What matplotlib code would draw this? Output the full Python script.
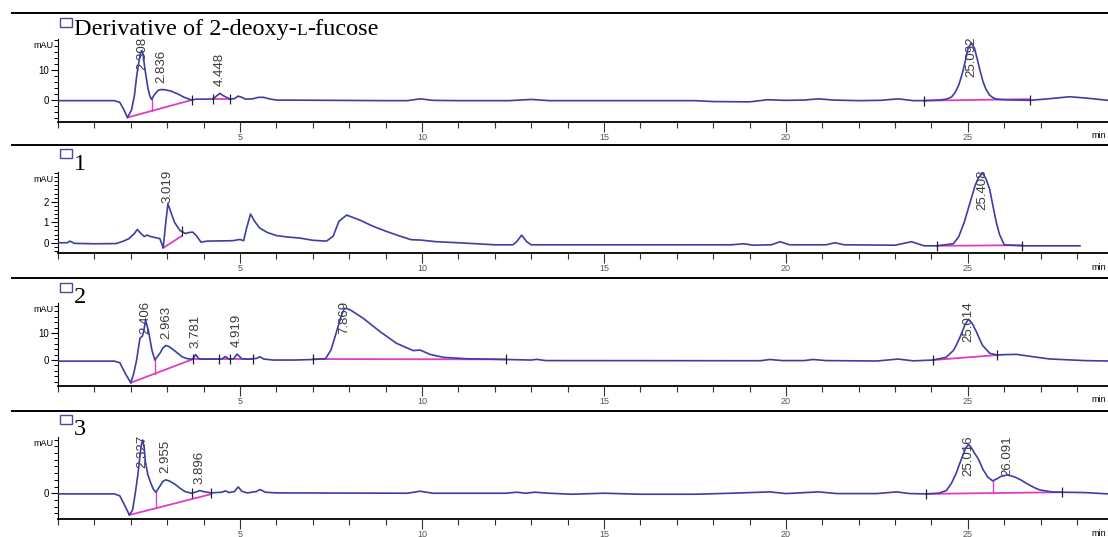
import numpy as np
import matplotlib
matplotlib.use("Agg")
import matplotlib.pyplot as plt
from matplotlib.lines import Line2D
from matplotlib.patches import Rectangle
from matplotlib.ticker import MultipleLocator, FixedLocator

W, H, DPI = 1108, 537, 100

# ---------------------------------------------------------------- data
sample_names = ["Derivative of 2-deoxy-", "1", "2", "3"]

# chromatogram shape points (time in min, signal in mAU); peak apexes are listed separately
deriv_shape = [(0.0, -0.2), (1.55, -0.2), (1.70, -0.8), (1.80, -3.0), (1.91, -5.8), (2.02, -3.3),
               (2.10, 1.5), (2.16, 7.8), (2.23, 13.3), (2.27, 15.8), (2.34, 15.0), (2.38, 11.0),
               (2.47, 4.0), (2.52, 1.5), (2.57, 0.2), (2.65, 1.8), (2.75, 3.2), (2.95, 3.4),
               (3.10, 3.0), (3.30, 2.0), (3.45, 1.0), (3.67, 0.0), (3.80, 0.3), (4.10, 0.3),
               (4.26, 0.4), (4.35, 1.3), (4.55, 1.4), (4.73, 0.3), (4.85, 0.5), (4.95, 1.3),
               (5.05, 0.9), (5.15, 0.3), (5.35, 0.4), (5.50, 0.9), (5.65, 0.9), (5.80, 0.4),
               (6.00, 0.0), (7.50, -0.1), (9.00, -0.2), (9.60, -0.2), (9.95, 0.4), (10.30, -0.1),
               (11.0, -0.2), (12.4, -0.2), (13.0, 0.2), (13.5, -0.2), (17.5, -0.2), (18.0, -0.5),
               (19.0, -0.6), (19.5, 0.1), (20.0, -0.1), (20.5, 0.0), (20.9, 0.4), (21.3, 0.0),
               (22.0, -0.2), (22.6, -0.1), (23.08, 0.4), (23.5, -0.2), (23.79, -0.2), (24.2, 0.0),
               (24.41, 0.3), (24.55, 1.0), (24.65, 2.5), (24.75, 5.0), (24.85, 9.0), (24.93, 13.0),
               (25.0, 17.0), (25.18, 17.3), (25.26, 13.5), (25.34, 9.5), (25.42, 6.0), (25.5, 3.5),
               (25.6, 1.6), (25.7, 0.7), (25.79, 0.3), (26.0, 0.1), (26.7, -0.1), (27.2, 0.4),
               (27.8, 1.1), (28.3, 0.6), (28.85, -0.1)]
deriv_peak_rt = [2.308, 2.836, 4.448, 25.092]
deriv_peak_h = [16.5, 3.5, 2.2, 19.0]
deriv_baselines = [((1.91, -5.8), (3.67, 0.0)), ((4.26, 0.3), (4.73, 0.3)), ((23.79, -0.2), (26.70, 0.3))]
deriv_drops = [2.57]
deriv_events = [3.67, 4.26, 4.73, 23.79, 26.70]

s1_shape = [(0.0, 0.0), (0.25, 0.0), (0.33, 0.08), (0.45, -0.03), (1.0, -0.05), (1.6, -0.04),
            (1.8, 0.08), (1.95, 0.2), (2.10, 0.45), (2.18, 0.65), (2.28, 0.45), (2.37, 0.3),
            (2.44, 0.37), (2.55, 0.3), (2.68, 0.25), (2.80, 0.2), (2.89, -0.25), (2.95, 0.8),
            (3.10, 1.5), (3.20, 1.0), (3.35, 0.6), (3.50, 0.45), (3.60, 0.5), (3.70, 0.52),
            (3.80, 0.35), (3.93, 0.03), (4.1, 0.08), (4.8, 0.1), (5.0, 0.16), (5.10, 0.1),
            (5.18, 0.7), (5.29, 1.4), (5.40, 1.05), (5.54, 0.72), (5.75, 0.5), (6.0, 0.35),
            (6.3, 0.28), (6.64, 0.23), (7.0, 0.12), (7.38, 0.08), (7.56, 0.32), (7.72, 1.05),
            (7.93, 1.35), (8.3, 1.1), (8.66, 0.8), (9.03, 0.55), (9.4, 0.32), (9.7, 0.15),
            (9.97, 0.13), (10.4, 0.05), (11.0, 0.0), (12.0, -0.1), (12.5, -0.1), (12.6, 0.05),
            (12.88, 0.05), (13.0, -0.1), (18.5, -0.1), (18.85, -0.05), (19.1, -0.12),
            (19.6, -0.1), (19.84, 0.05), (20.1, -0.1), (21.1, -0.1), (21.35, 0.0), (21.6, -0.1),
            (23.0, -0.12), (23.45, 0.05), (23.8, -0.15), (24.14, -0.15), (24.6, -0.05),
            (24.75, 0.3), (24.9, 1.0), (25.0, 1.6), (25.1, 2.2), (25.2, 2.8), (25.3, 3.2),
            (25.5, 3.1), (25.6, 2.6), (25.7, 1.7), (25.78, 1.0), (25.87, 0.4), (26.0, -0.1),
            (26.5, -0.15), (28.08, -0.15)]
s1_peak_rt = [3.019, 12.74, 25.408]
s1_peak_h = [1.9, 0.37, 3.4]
s1_peak_labelled = [True, False, True]
s1_baselines = [((2.89, -0.25), (3.40, 0.33)), ((24.14, -0.15), (26.50, -0.12))]
s1_drops = []
s1_events = [3.40, 24.14, 26.50]

s2_shape = [(0.0, -0.4), (1.55, -0.4), (1.70, -1.0), (1.85, -5.0), (2.00, -8.4), (2.08, -5.0),
            (2.16, 0.0), (2.25, 8.0), (2.32, 8.9), (2.36, 11.0), (2.49, 10.5), (2.58, 3.7),
            (2.66, 0.0), (2.81, 2.7), (2.88, 4.4), (3.05, 5.0), (3.18, 3.7), (3.41, 1.2),
            (3.55, 0.5), (3.70, 0.3), (3.87, 0.5), (4.0, 0.3), (4.5, 0.4), (4.6, 1.3), (4.7, 0.3),
            (4.83, 0.5), (5.05, 0.5), (5.2, 0.3), (5.45, 0.6), (5.55, 1.2), (5.65, 0.4),
            (5.9, 0.0), (6.5, 0.0), (7.0, 0.2), (7.35, 0.5), (7.50, 3.7), (7.62, 9.0),
            (7.72, 13.5), (7.80, 17.0), (7.95, 19.0), (8.05, 18.4), (8.39, 15.4), (8.85, 10.5),
            (9.3, 6.2), (9.76, 3.5), (9.95, 3.7), (10.22, 2.1), (10.59, 1.0), (11.2, 0.5),
            (12.33, 0.2), (13.0, 0.0), (13.15, 0.26), (13.4, -0.2), (19.3, -0.25), (19.56, 0.2),
            (19.9, -0.2), (20.5, -0.2), (20.75, 0.2), (21.1, -0.2), (22.5, -0.35), (23.08, 0.37),
            (23.5, -0.3), (24.04, 0.0), (24.4, 1.0), (24.6, 3.5), (24.7, 6.0), (24.8, 9.0),
            (24.92, 13.0), (25.12, 13.5), (25.25, 10.0), (25.33, 7.5), (25.4, 5.5), (25.6, 2.5),
            (25.81, 1.85), (26.0, 2.0), (26.34, 2.1), (26.8, 1.2), (27.25, 0.4), (28.2, -0.2),
            (28.85, -0.35)]
s2_peak_rt = [2.406, 2.963, 3.781, 4.919, 7.869, 25.014]
s2_peak_h = [14.8, 5.4, 2.0, 2.2, 19.1, 15.1]
s2_peak_labelled = [True, True, True, True, True, True]
s2_baselines = [((2.00, -8.4), (3.70, 0.3)), ((3.70, 0.3), (5.36, 0.3)),
                ((7.01, 0.37), (12.30, 0.25)), ((24.04, 0.0), (25.81, 1.85))]
s2_drops = [2.66]
s2_events = [3.70, 4.43, 4.73, 5.36, 7.01, 12.30, 24.04, 25.81]

s3_shape = [(0.0, -0.2), (1.55, -0.2), (1.70, -0.8), (1.85, -4.0), (1.96, -6.5), (2.05, -5.0),
            (2.13, 0.5), (2.20, 6.0), (2.26, 12.0), (2.30, 15.0), (2.37, 13.5), (2.40, 9.5),
            (2.47, 5.5), (2.55, 3.0), (2.62, 1.2), (2.69, 0.3), (2.78, 1.8), (2.88, 3.5),
            (3.05, 3.7), (3.2, 2.8), (3.35, 1.5), (3.49, 0.5), (3.67, 0.0), (3.80, 0.4),
            (4.0, 0.5), (4.2, 0.1), (4.5, 0.3), (4.6, 0.7), (4.7, 0.2), (4.85, 0.5), (4.95, 1.9),
            (5.05, 0.6), (5.2, 0.1), (5.45, 0.5), (5.55, 1.1), (5.7, 0.3), (6.0, 0.1), (9.6, 0.0),
            (9.95, 0.6), (10.3, 0.0), (12.3, 0.0), (12.6, 0.3), (12.85, 0.0), (13.1, 0.3),
            (13.5, 0.0), (14.1, -0.3), (15.0, 0.0), (16.0, -0.3), (17.5, -0.3), (18.5, 0.0),
            (19.56, 0.4), (20.0, -0.1), (20.9, 0.4), (21.4, -0.1), (22.5, -0.1), (23.04, 0.4),
            (23.4, -0.1), (23.85, -0.2), (24.2, 0.0), (24.41, 0.8), (24.55, 3.0), (24.68, 6.0),
            (24.78, 9.0), (24.85, 11.0), (24.94, 13.5), (25.1, 13.5), (25.18, 12.0),
            (25.28, 10.4), (25.42, 7.0), (25.55, 4.8), (25.68, 3.7), (25.8, 4.3), (25.9, 5.0),
            (26.3, 4.8), (26.45, 4.0), (26.6, 3.0), (26.8, 1.8), (26.97, 1.0), (27.3, 0.4),
            (27.58, 0.3), (28.2, 0.2), (28.85, -0.2)]
s3_peak_rt = [2.327, 2.955, 3.896, 25.016, 26.091]
s3_peak_h = [15.9, 4.0, 0.8, 14.6, 5.5]
s3_peak_labelled = [True, True, True, True, True]
s3_baselines = [((1.96, -6.5), (4.20, -0.3)), ((23.85, -0.2), (27.58, 0.3))]
s3_drops = [2.69, 25.68]
s3_events = [3.67, 4.20, 23.85, 27.58]

y_limits = [(-7.3, 20.3), (-0.5, 3.45), (-9.6, 21.1), (-7.7, 16.8)]
y_major_ticks = [[0, 10], [0, 1, 2], [0, 10], [0]]
y_minor_step = [2, 0.2, 2, 2]
x_major_ticks = [5, 10, 15, 20, 25]
x_limits = (0, 28.85)

samples = [
    dict(shape=deriv_shape, rt=deriv_peak_rt, h=deriv_peak_h, lab=[True] * 4,
         base=deriv_baselines, drops=deriv_drops, events=deriv_events),
    dict(shape=s1_shape, rt=s1_peak_rt, h=s1_peak_h, lab=s1_peak_labelled,
         base=s1_baselines, drops=s1_drops, events=s1_events),
    dict(shape=s2_shape, rt=s2_peak_rt, h=s2_peak_h, lab=s2_peak_labelled,
         base=s2_baselines, drops=s2_drops, events=s2_events),
    dict(shape=s3_shape, rt=s3_peak_rt, h=s3_peak_h, lab=s3_peak_labelled,
         base=s3_baselines, drops=s3_drops, events=s3_events),
]

# ---------------------------------------------------------------- layout (pixels from top)
axes_px = [(39, 122), (172, 253), (303, 386), (437, 519)]
sep_px = [13, 145, 278, 411]
box_px = [18, 149, 283, 415]
name_base_px = [35, 170, 303, 435]
AX_LEFT = 58

TRACE = "#3d3da6"
BASE = "#e03cc8"
SERIF = ["Liberation Serif", "DejaVu Serif"]
SANS = ["Liberation Sans", "DejaVu Sans"]

fig = plt.figure(figsize=(W / DPI, H / DPI), dpi=DPI)
renderer = fig.canvas.get_renderer()

peak_texts = []
for i, smp in enumerate(samples):
    top, bot = axes_px[i]
    ax = fig.add_axes([AX_LEFT / W, 1 - bot / H, 1 - AX_LEFT / W, (bot - top) / H])
    ax.set_xlim(*x_limits)
    ax.set_ylim(*y_limits[i])
    for side in ("top", "right"):
        ax.spines[side].set_visible(False)
    ax.spines["bottom"].set_linewidth(1.3)
    ax.spines["left"].set_linewidth(0.8)

    ax.xaxis.set_major_locator(FixedLocator(x_major_ticks))
    ax.xaxis.set_minor_locator(MultipleLocator(1))
    ax.yaxis.set_major_locator(FixedLocator(y_major_ticks[i]))
    ax.yaxis.set_minor_locator(MultipleLocator(y_minor_step[i]))
    ax.set_xticklabels([str(v) for v in x_major_ticks])
    ax.tick_params(axis="x", which="major", length=7, width=0.8, color="#333333",
                   labelsize=6.5, labelcolor="#555555", pad=1.0)
    ax.tick_params(axis="x", which="minor", length=4, width=0.8, color="#333333")
    ax.tick_params(axis="y", which="major", length=5, width=0.8, labelsize=7, pad=1.5)
    ax.tick_params(axis="y", which="minor", length=3, width=0.7)
    for lbl in ax.get_xticklabels() + ax.get_yticklabels():
        lbl.set_family(SANS)
    ax.text(-0.004, 1 - 7 / (bot - top), "mAU", transform=ax.transAxes, ha="right",
            va="center", fontsize=6.5, family=SANS)

    # trace: shape points merged with the peak apexes
    pts = sorted(list(smp["shape"]) + list(zip(smp["rt"], smp["h"])))
    t = np.array([p[0] for p in pts])
    y = np.array([p[1] for p in pts])
    ax.plot(t, y, color=TRACE, lw=1.2, zorder=3, solid_joinstyle="round")

    # integration baselines, valley drop lines and event marks
    for (t0, y0), (t1, y1) in smp["base"]:
        ax.plot([t0, t1], [y0, y1], color=BASE, lw=1.3, zorder=2)
    for td in smp["drops"]:
        for (t0, y0), (t1, y1) in smp["base"]:
            if t0 <= td <= t1:
                yb = np.interp(td, [t0, t1], [y0, y1])
                ax.plot([td, td], [yb, np.interp(td, t, y)], color=BASE, lw=1.0, zorder=2)
    for te in smp["events"]:
        ye = np.interp(te, t, y)
        ax.plot([te], [ye], marker="|", markersize=7, color="#222222", mew=0.9, zorder=4)

    # retention-time labels
    for rt, hh, show in zip(smp["rt"], smp["h"], smp["lab"]):
        if not show:
            continue
        ann = ax.annotate(f"{rt:.3f}", xy=(rt, hh), xytext=(0, 5), textcoords="offset points",
                          rotation=90, ha="center", va="bottom", fontsize=9.5,
                          color="#3a3a3a", family=SANS, zorder=1, annotation_clip=False)
        peak_texts.append((ann, ax))

    # end-of-axis unit label
    fig.text(1106 / W, 1 - (bot + 14) / H, "min", fontsize=6.5, va="center", ha="right",
             family=SANS)

    # separator line and sample caption box
    fig.add_artist(Line2D([12 / W, 1.0], [1 - sep_px[i] / H] * 2, transform=fig.transFigure,
                          color="black", lw=1.4))
    fig.add_artist(Rectangle((60 / W, 1 - (box_px[i] + 9) / H), 12 / W, 9 / H,
                             transform=fig.transFigure, facecolor="white",
                             edgecolor="#4a4aa0", lw=1.0))

# captions (the first one has a small-capital L)
for i in range(4):
    xb = 74.0
    yb = H - name_base_px[i]
    if i == 0:
        parts = [(sample_names[0], 17.5), ("L", 12.5), ("-fucose", 17.5)]
    else:
        parts = [(sample_names[i], 17.5)]
    for s, size in parts:
        txt = fig.text(xb / W, yb / H, s, fontsize=size, family=SERIF, va="baseline",
                       ha="left")
        xb = txt.get_window_extent(renderer).x1

# keep the rotated labels inside the plotting area
fig.canvas.draw()
for ann, ax in peak_texts:
    bb = ann.get_window_extent(renderer)
    ax_top = ax.get_window_extent(renderer).y1
    if bb.y1 > ax_top + 2:
        shift_px = bb.y1 - (ax_top + 2)
        ann.xyann = (0, 5 - shift_px * 72.0 / DPI)

fig.savefig("out.png", dpi=DPI)
